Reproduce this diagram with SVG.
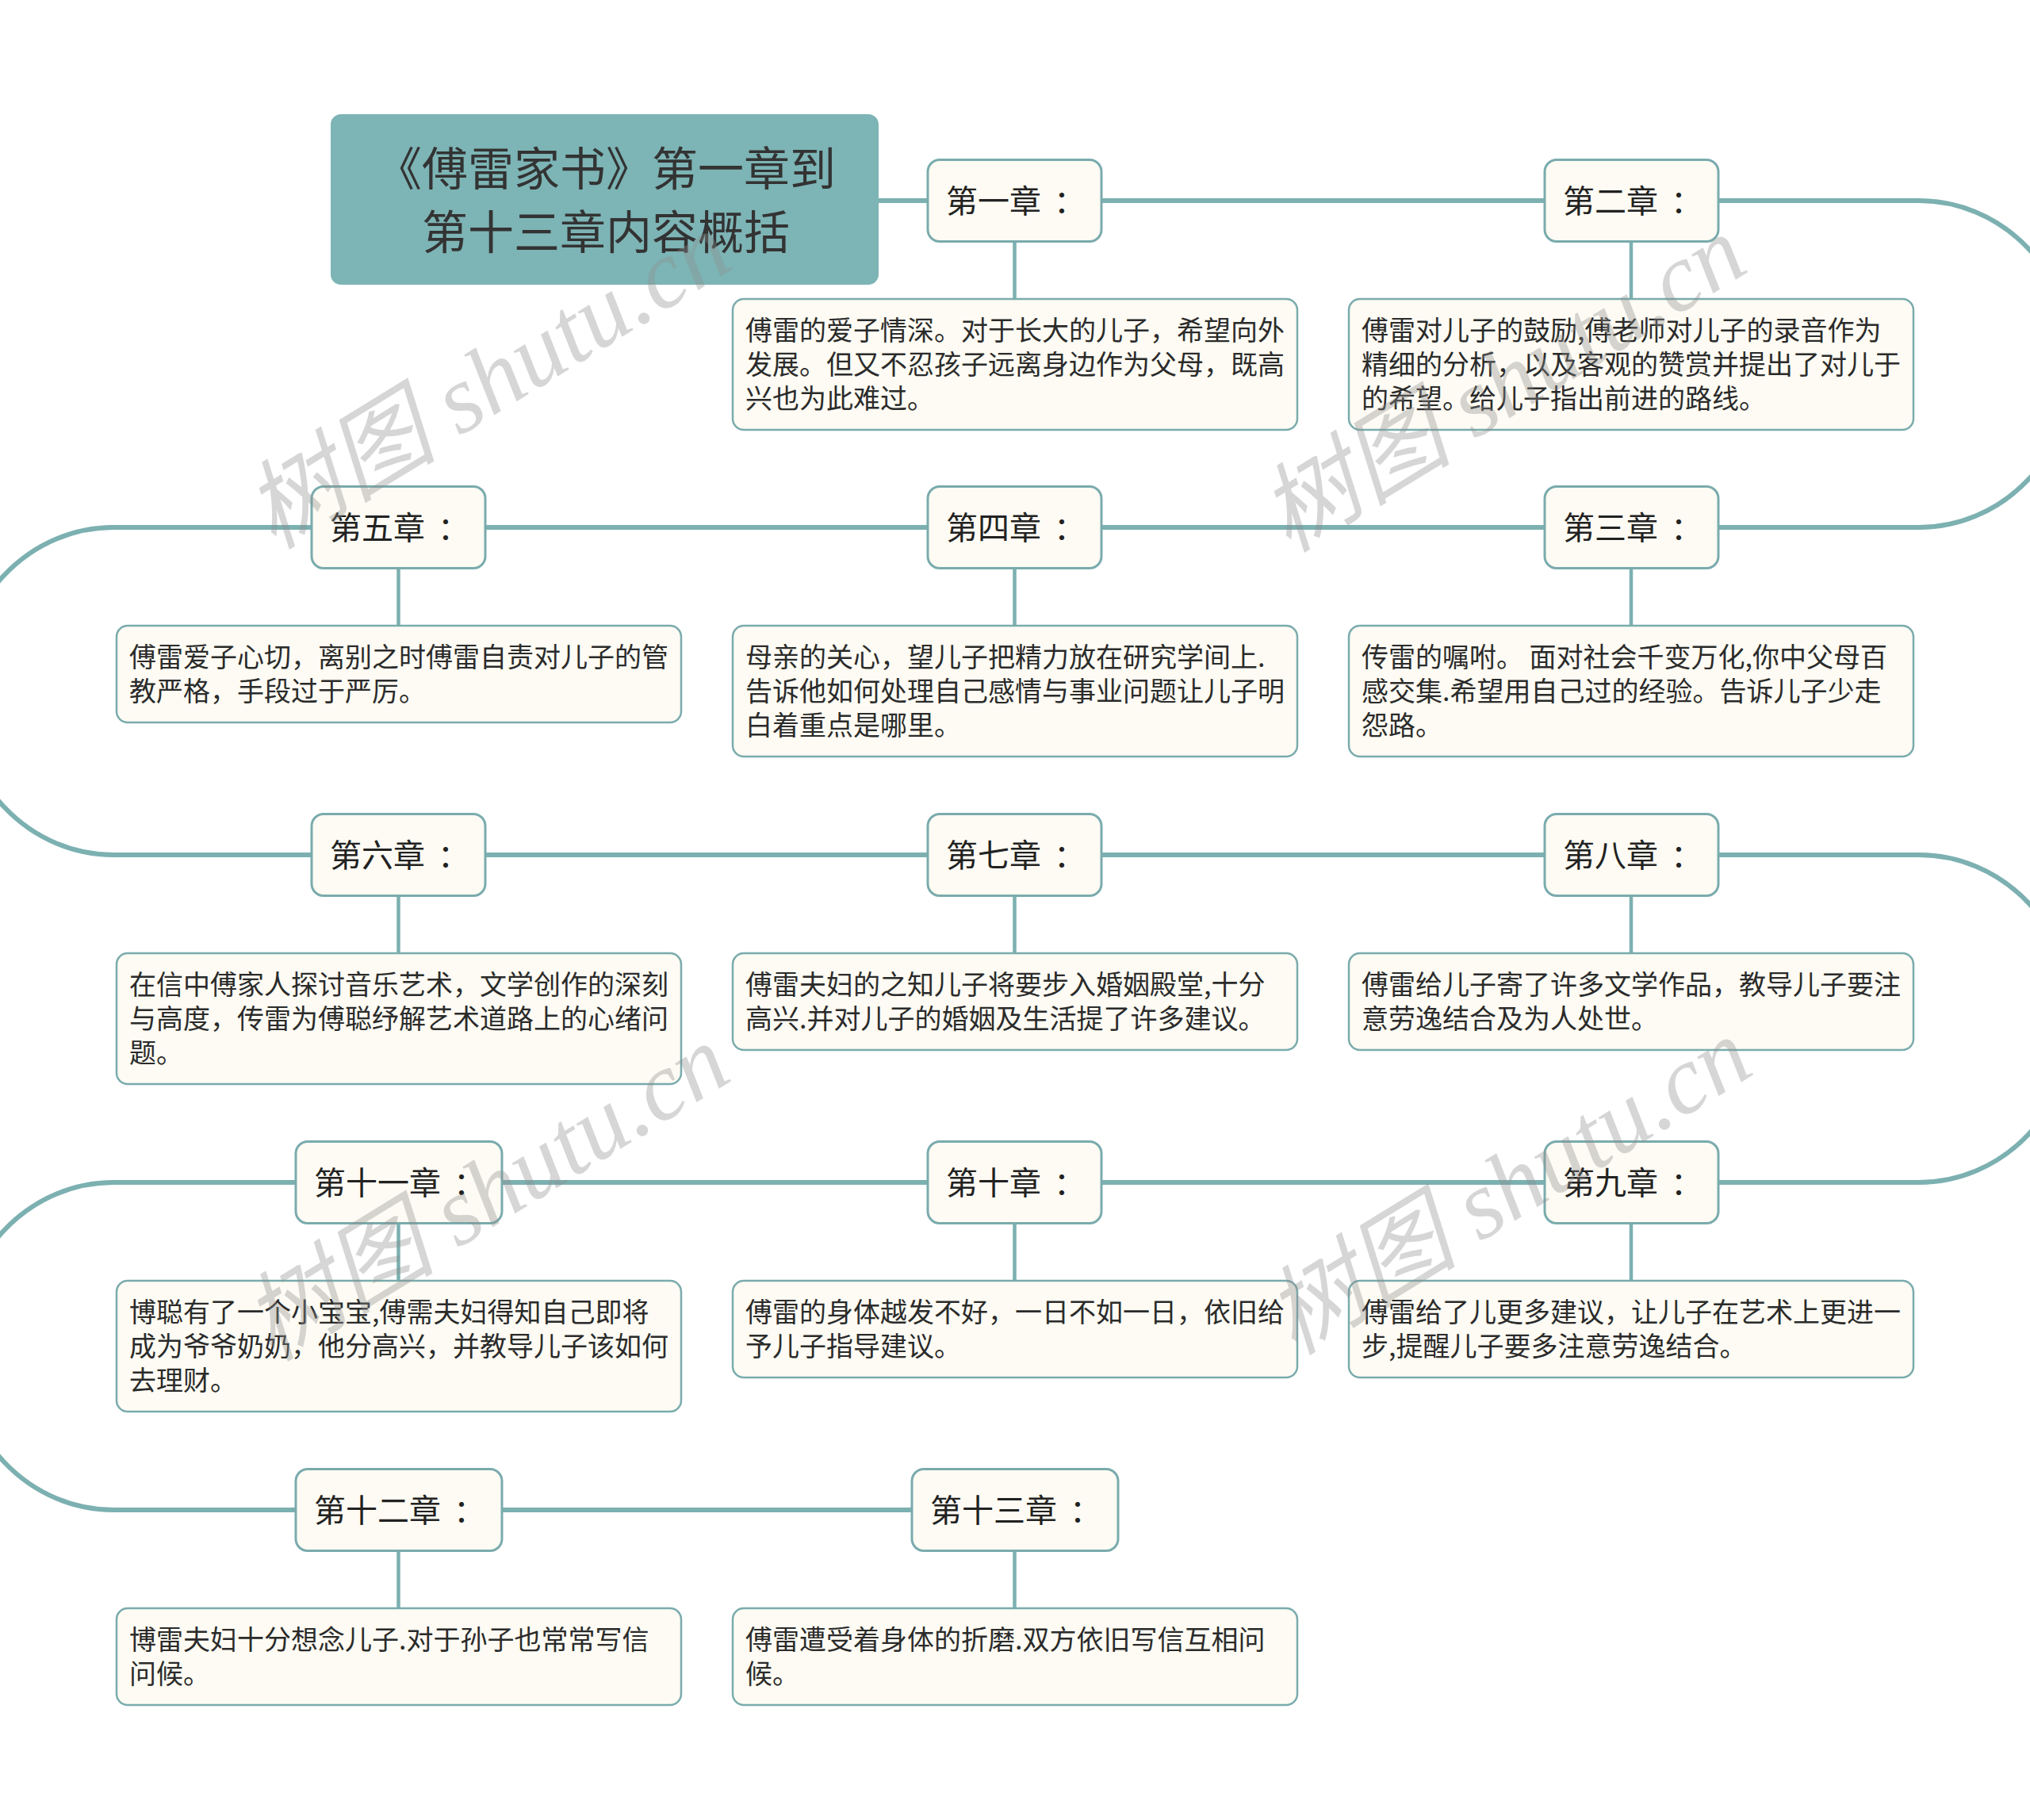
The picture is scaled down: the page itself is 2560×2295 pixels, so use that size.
<svg xmlns="http://www.w3.org/2000/svg" width="2560" height="2295" viewBox="0 0 2560 2295">
<style>
.bg{fill:#ffffff}
.conn{fill:none;stroke:#7cb0b1;stroke-width:6}
.stem{fill:none;stroke:#7cb0b1;stroke-width:4.5}
.title-box{fill:#7db4b5;stroke:#7db4b5;stroke-width:2}
.title{font-family:"Noto Sans CJK SC","Noto Sans",sans-serif;font-size:58px;fill:#333333;text-anchor:middle}
.chap{fill:#fdfbf3;stroke:#7aabad;stroke-width:3}
.chap-t{font-family:"Noto Sans CJK SC","Noto Sans",sans-serif;font-size:40px;fill:#222222}
.det{fill:#fdfbf3;stroke:#7aabad;stroke-width:2.5}
.det-t{font-family:"Noto Sans CJK SC","Noto Sans",sans-serif;font-size:34px;fill:#2b2b2b}
.wm{font-family:"Liberation Serif","Noto Sans CJK SC",serif;font-style:italic;font-size:122px;fill:#8c8c8c;fill-opacity:0.36}
</style>
<rect class="bg" x="0" y="0" width="2560" height="2295"/>

<g id="connectors">
<path class="conn" d="M1107 253 H2420 A195 206 0 0 1 2420 665 H143 A195 206.5 0 0 0 143 1078 H2420 A195 206.5 0 0 1 2420 1491 H143 A195 206.5 0 0 0 143 1904 H1150"/>
<path class="stem" d="M1279.5 304 V377 M2057 304 V377 M502.5 716 V789 M1279.5 716 V789 M2057 716 V789 M502.5 1129 V1202 M1279.5 1129 V1202 M2057 1129 V1202 M502.5 1542 V1615 M1279.5 1542 V1615 M2057 1542 V1615 M502.5 1955 V2028 M1279.5 1955 V2028"/>
</g>

<g id="title">
<rect class="title-box" x="418" y="145" width="689" height="213" rx="12"/>
<text class="title" x="764" y="234">《傅雷家书》第一章到</text>
<text class="title" x="764" y="314">第十三章内容概括</text>
</g>

<g id="ch1"><rect class="chap" x="1170" y="201.5" width="219" height="103" rx="15"/><text class="chap-t" x="1193" y="268">第一章<tspan dx="16">：</tspan></text></g>
<g id="ch2"><rect class="chap" x="1948" y="201.5" width="219" height="103" rx="15"/><text class="chap-t" x="1971" y="268">第二章<tspan dx="16">：</tspan></text></g>
<g id="ch5"><rect class="chap" x="393" y="613.5" width="219" height="103" rx="15"/><text class="chap-t" x="416" y="680">第五章<tspan dx="16">：</tspan></text></g>
<g id="ch4"><rect class="chap" x="1170" y="613.5" width="219" height="103" rx="15"/><text class="chap-t" x="1193" y="680">第四章<tspan dx="16">：</tspan></text></g>
<g id="ch3"><rect class="chap" x="1948" y="613.5" width="219" height="103" rx="15"/><text class="chap-t" x="1971" y="680">第三章<tspan dx="16">：</tspan></text></g>
<g id="ch6"><rect class="chap" x="393" y="1026.5" width="219" height="103" rx="15"/><text class="chap-t" x="416" y="1093">第六章<tspan dx="16">：</tspan></text></g>
<g id="ch7"><rect class="chap" x="1170" y="1026.5" width="219" height="103" rx="15"/><text class="chap-t" x="1193" y="1093">第七章<tspan dx="16">：</tspan></text></g>
<g id="ch8"><rect class="chap" x="1948" y="1026.5" width="219" height="103" rx="15"/><text class="chap-t" x="1971" y="1093">第八章<tspan dx="16">：</tspan></text></g>
<g id="ch11"><rect class="chap" x="373" y="1439.5" width="260" height="103" rx="15"/><text class="chap-t" x="396" y="1506">第十一章<tspan dx="16">：</tspan></text></g>
<g id="ch10"><rect class="chap" x="1170" y="1439.5" width="219" height="103" rx="15"/><text class="chap-t" x="1193" y="1506">第十章<tspan dx="16">：</tspan></text></g>
<g id="ch9"><rect class="chap" x="1948" y="1439.5" width="219" height="103" rx="15"/><text class="chap-t" x="1971" y="1506">第九章<tspan dx="16">：</tspan></text></g>
<g id="ch12"><rect class="chap" x="373" y="1852.5" width="260" height="103" rx="15"/><text class="chap-t" x="396" y="1919">第十二章<tspan dx="16">：</tspan></text></g>
<g id="ch13"><rect class="chap" x="1150" y="1852.5" width="260" height="103" rx="15"/><text class="chap-t" x="1173" y="1919">第十三章<tspan dx="16">：</tspan></text></g>

<g id="d1"><rect class="det" x="924" y="377" width="712" height="165" rx="14"/>
<text class="det-t" x="940" y="429">傅雷的爱子情深。对于长大的儿子，希望向外</text>
<text class="det-t" x="940" y="472">发展。但又不忍孩子远离身边作为父母，既高</text>
<text class="det-t" x="940" y="515">兴也为此难过。</text></g>
<g id="d2"><rect class="det" x="1701" y="377" width="712" height="165" rx="14"/>
<text class="det-t" x="1717" y="429">傅雷对儿子的鼓励,傅老师对儿子的录音作为</text>
<text class="det-t" x="1717" y="472">精细的分析，以及客观的赞赏并提出了对儿于</text>
<text class="det-t" x="1717" y="515">的希望。给儿子指出前进的路线。</text></g>
<g id="d5"><rect class="det" x="147" y="789" width="712" height="122" rx="14"/>
<text class="det-t" x="163" y="841">傅雷爱子心切，离别之时傅雷自责对儿子的管</text>
<text class="det-t" x="163" y="884">教严格，手段过于严厉。</text></g>
<g id="d4"><rect class="det" x="924" y="789" width="712" height="165" rx="14"/>
<text class="det-t" x="940" y="841">母亲的关心，望儿子把精力放在研究学间上.</text>
<text class="det-t" x="940" y="884">告诉他如何处理自己感情与事业问题让儿子明</text>
<text class="det-t" x="940" y="927">白着重点是哪里。</text></g>
<g id="d3"><rect class="det" x="1701" y="789" width="712" height="165" rx="14"/>
<text class="det-t" x="1717" y="841">传雷的嘱咐。 面对社会千变万化,你中父母百</text>
<text class="det-t" x="1717" y="884">感交集.希望用自己过的经验。告诉儿子少走</text>
<text class="det-t" x="1717" y="927">怨路。</text></g>
<g id="d6"><rect class="det" x="147" y="1202" width="712" height="165" rx="14"/>
<text class="det-t" x="163" y="1254">在信中傅家人探讨音乐艺术，文学创作的深刻</text>
<text class="det-t" x="163" y="1297">与高度，传雷为傅聪纾解艺术道路上的心绪问</text>
<text class="det-t" x="163" y="1340">题。</text></g>
<g id="d7"><rect class="det" x="924" y="1202" width="712" height="122" rx="14"/>
<text class="det-t" x="940" y="1254">傅雷夫妇的之知儿子将要步入婚姻殿堂,十分</text>
<text class="det-t" x="940" y="1297">高兴.并对儿子的婚姻及生活提了许多建议。</text></g>
<g id="d8"><rect class="det" x="1701" y="1202" width="712" height="122" rx="14"/>
<text class="det-t" x="1717" y="1254">傅雷给儿子寄了许多文学作品，教导儿子要注</text>
<text class="det-t" x="1717" y="1297">意劳逸结合及为人处世。</text></g>
<g id="d11"><rect class="det" x="147" y="1615" width="712" height="165" rx="14"/>
<text class="det-t" x="163" y="1667">博聪有了一个小宝宝,傅需夫妇得知自己即将</text>
<text class="det-t" x="163" y="1710">成为爷爷奶奶，他分高兴，并教导儿子该如何</text>
<text class="det-t" x="163" y="1753">去理财。</text></g>
<g id="d10"><rect class="det" x="924" y="1615" width="712" height="122" rx="14"/>
<text class="det-t" x="940" y="1667">傅雷的身体越发不好，一日不如一日，依旧给</text>
<text class="det-t" x="940" y="1710">予儿子指导建议。</text></g>
<g id="d9"><rect class="det" x="1701" y="1615" width="712" height="122" rx="14"/>
<text class="det-t" x="1717" y="1667">傅雷给了儿更多建议，让儿子在艺术上更进一</text>
<text class="det-t" x="1717" y="1710">步,提醒儿子要多注意劳逸结合。</text></g>
<g id="d12"><rect class="det" x="147" y="2028" width="712" height="122" rx="14"/>
<text class="det-t" x="163" y="2080">博雷夫妇十分想念儿子.对于孙子也常常写信</text>
<text class="det-t" x="163" y="2123">问候。</text></g>
<g id="d13"><rect class="det" x="924" y="2028" width="712" height="122" rx="14"/>
<text class="det-t" x="940" y="2080">傅雷遭受着身体的折磨.双方依旧写信互相问</text>
<text class="det-t" x="940" y="2123">候。</text></g>

<g id="watermarks">
<text class="wm" transform="translate(345 694) rotate(-31.5)">树图 shutu.cn</text>
<text class="wm" transform="translate(1625 698) rotate(-31.5)">树图 shutu.cn</text>
<text class="wm" transform="translate(343 1718) rotate(-31.5)">树图 shutu.cn</text>
<text class="wm" transform="translate(1632 1710) rotate(-31.5)">树图 shutu.cn</text>
</g>
</svg>
